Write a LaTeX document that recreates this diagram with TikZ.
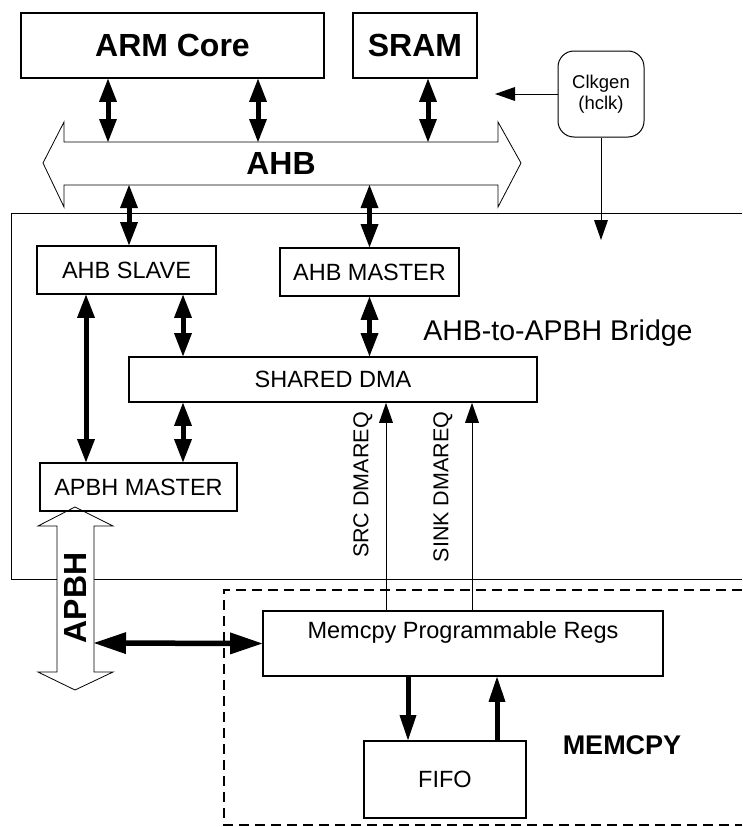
\documentclass[tikz,border=0pt]{standalone}
\usepackage{fontspec}
\setmainfont{Liberation Sans}
\usetikzlibrary{arrows.meta,positioning}

\begin{document}
\begin{tikzpicture}[x=1pt,y=-1pt,
  blk/.style={draw,line width=1.6pt,inner sep=0pt,font=\fontsize{23.5}{26}\selectfont},
  ttl/.style={font=\bfseries\fontsize{32}{36}\selectfont},
  dbl/.style={line width=5pt,{Triangle[width=18pt,length=23pt,line width=0pt]}-{Triangle[width=18pt,length=23pt,line width=0pt]}},
  sig/.style={line width=1pt,-{Triangle[width=14pt,length=20pt,line width=0pt]}},
  fat/.style={line width=5pt,-{Triangle[width=17pt,length=25pt,line width=0pt]}}]
\useasboundingbox (0,0) rectangle (742,827);
% bridge and memcpy frames
\draw[line width=1pt] (742,213) -- (11,213) -- (11,579) -- (742,579);
\draw[line width=1.6pt,dash pattern=on 10pt off 6pt] (742,590) -- (224,590) -- (224,825) -- (742,825);
% AHB bus
\draw[line width=0.8pt,fill=white] (64,142) -- (498,142) -- (498,122) -- (521,163) -- (498,207) -- (498,185)
  -- (64,185) -- (64,207) -- (43,163) -- (64,122) -- cycle;
\node[ttl] (ahb) at (281,163) {AHB};
\coordinate (ahbtop) at (281,142);
\coordinate (ahbbot) at (281,185);
% APBH bus
\draw[line width=0.8pt,fill=white] (75,507) -- (113,526) -- (94,526) -- (94,672) -- (113,672) -- (75,690)
  -- (38,672) -- (57,672) -- (57,526) -- (38,526) -- cycle;
\node[ttl,rotate=90] (apbh) at (75,598) {APBH};
\coordinate (apbhr) at (94,643);

\node[blk,ttl,minimum width=303pt,minimum height=65pt] (core) at (172.5,45.5) {ARM Core};
\node[blk,ttl,minimum width=124pt,minimum height=65pt] (sram) at (415,45.5) {SRAM};
\node[draw,line width=1pt,rounded corners=16pt,minimum width=86pt,minimum height=86pt,align=center,
  font=\fontsize{18.5}{21}\selectfont] (clk) at (601,94) {Clkgen\\(hclk)};
\node[blk,minimum width=179pt,minimum height=48pt] (slave) at (126.5,270) {AHB SLAVE};
\node[blk,minimum width=179pt,minimum height=48pt] (master) at (369.5,272) {AHB MASTER};
\node[blk,minimum width=408pt,minimum height=45pt] (dma) at (333,379.5) {SHARED DMA};
\node[blk,minimum width=197pt,minimum height=48pt] (apbhm) at (138.5,487) {APBH MASTER};
\node[blk,minimum width=400pt,minimum height=65pt] (regs) at (463,643.5) {};
\node[font=\fontsize{23.5}{26}\selectfont] (regstxt) at (463,632) {Memcpy Programmable Regs};
\node[blk,minimum width=162pt,minimum height=77pt] (fifo) at (445,779.5) {FIFO};

\node[font=\fontsize{28.5}{32}\selectfont] (bridge) at (558,333) {AHB-to-APBH Bridge};
\node[rotate=90,font=\fontsize{21.5}{24}\selectfont] (srcreq) at (363,485) {SRC DMAREQ};
\node[rotate=90,font=\fontsize{21.5}{24}\selectfont] (sinkreq) at (443,487) {SINK DMAREQ};
\node[font=\bfseries\fontsize{27}{30}\selectfont] (memcpy) at (622,745) {MEMCPY};

% bus connections
\foreach \n/\x in {core/108,core/258,sram/428}
  \draw[dbl] (\n.south -| \x,0) -- (ahbtop -| \x,0);
\draw[dbl] (ahbbot -| 129,0) -- (slave.north -| 129,0);
\draw[dbl] (ahbbot -| master.north) -- (master.north);
\draw[dbl] (slave.south -| 86,0) -- (apbhm.north -| 86,0);
\draw[dbl] (slave.south -| 183,0) -- (dma.north -| 183,0);
\draw[dbl] (master.south) -- (dma.north -| master.south);
\draw[dbl] (dma.south -| 183,0) -- (apbhm.north -| 183,0);
% clock
\coordinate (clkin) at (495,94);
\coordinate (clkout) at (601,240);
\draw[sig] (clk.west) -- (clkin);
\draw[sig] (clk.south) -- (clkout);
% dma requests
\foreach \x in {386,472}
  \draw[sig] (regs.north -| \x,0) -- (dma.south -| \x,0);
% memcpy
\draw[line width=5.5pt,{Triangle[width=22pt,length=32pt,line width=0pt]}-{Triangle[width=22pt,length=32pt,line width=0pt]}] (apbhr) -- (regs.west);
\draw[fat] (regs.south -| 408,0) -- (fifo.north -| 408,0);
\draw[fat] (fifo.north -| 497,0) -- (regs.south -| 497,0);
\end{tikzpicture}
\end{document}
